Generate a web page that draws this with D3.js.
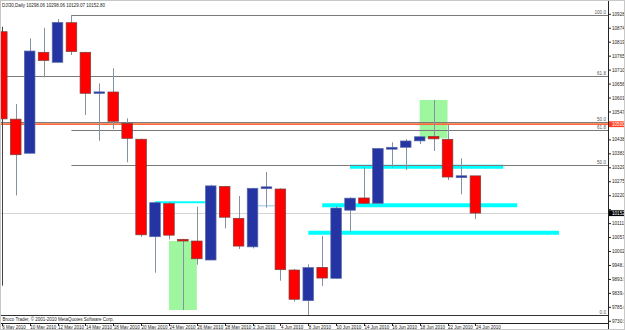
<!DOCTYPE html>
<html><head><meta charset="utf-8">
<script src="https://cdn.jsdelivr.net/npm/d3@7"></script>
<style>html,body{margin:0;padding:0;background:#fff;}svg{display:block;}text{font-family:"Liberation Sans",Arial,sans-serif;}</style>
</head><body>
<script>
// ---- data ----
const dates = ["6 May 2010","7 May 2010","10 May 2010","11 May 2010","12 May 2010","13 May 2010","14 May 2010","17 May 2010","18 May 2010","19 May 2010","20 May 2010","21 May 2010","24 May 2010","25 May 2010","26 May 2010","27 May 2010","28 May 2010","1 Jun 2010","2 Jun 2010","3 Jun 2010","4 Jun 2010","7 Jun 2010","8 Jun 2010","9 Jun 2010","10 Jun 2010","11 Jun 2010","14 Jun 2010","15 Jun 2010","16 Jun 2010","17 Jun 2010","18 Jun 2010","21 Jun 2010","22 Jun 2010","23 Jun 2010","24 Jun 2010"];
const open  = [10860.6,10519.4,10386.2,10780.2,10741.2,10895.7,10780.2,10620.4,10625.3,10503.0,10441.0,10060.6,10190.0,10050.5,10043.8,9969.7,10257.0,10132.4,10021.0,10248.0,10246.8,9930.7,9811.0,9941.0,9898.3,10164.0,10211.8,10191.0,10402.0,10409.5,10434.5,10452.0,10440.7,10291.0,10298.06];
const high  = [10879.8,10578.5,10834.8,10876.0,10910.0,10925.7,10782.0,10659.0,10717.7,10522.6,10443.0,10195.0,10197.0,10052.0,10177.6,10263.0,10259.0,10219.4,10251.0,10313.0,10249.0,9935.0,9952.9,10064.0,10180.0,10214.0,10331.4,10407.0,10429.0,10441.0,10452.0,10594.2,10496.5,10366.5,10298.06];
const low   = [9869.6,10221.5,10386.2,10682.6,10741.2,10769.6,10535.5,10435.0,10480.9,10351.0,10060.0,9920.2,10050.0,9774.5,9951.4,9969.7,10093.0,10012.6,10015.0,10173.7,9889.0,9807.0,9755.1,9868.0,9896.0,10080.2,10187.0,10189.0,10331.0,10320.9,10422.0,10395.0,10281.9,10226.0,10129.07];
const close = [10520.3,10380.4,10785.1,10748.3,10896.9,10783.0,10620.2,10625.8,10511.0,10444.4,10068.0,10193.4,10066.6,10043.8,9974.5,10259.0,10136.6,10024.0,10249.5,10255.3,9932.0,9816.5,9940.0,9899.3,10172.5,10211.1,10190.9,10404.8,10409.5,10434.2,10450.6,10442.4,10293.5,10298.4,10152.80];
const priceTicks = ["9730.55","9785.00","9839.45","9893.90","9948.35","10002.80","10057.25","10111.70","10166.15","10220.60","10275.05","10329.50","10383.95","10438.40","10492.85","10547.30","10601.75","10656.20","10710.65","10765.10","10819.55","10874.00","10928.45"];
const dateLabelIdx = [0,2,4,6,8,10,12,14,16,18,20,22,24,26,28,30,32,34];
// Fibonacci levels
const fibPrice = [10925.7,10478.5,10340.4,9755.1,10685.9,10508.2];
const fibLabel = ["100.0","61.8","50.0","0.0","61.8","50.0"];
const fibStart = [5,5,5,-2,-2,-2];
// cyan support lines
const cyanPrice = [10333.8,10183.2,10076.2,10194.9];
const cyanFrom  = [25,23,22,11];
const cyanTo    = [36,37,40,14.6];
const cyanThick = [1,1,1,0];
// green highlight boxes
const boxFrom = [12,30], boxTo = [14,32], boxTop = [10043.8,10594.2], boxBottom = [9774.5,10444.6];
const hLinePrice = 10500.00;
const titleText = "DJI30,Daily  10298.06 10298.06 10129.07 10152.80";
const copyText = "Broco Trader, © 2001-2010 MetaQuotes Software Corp.";

// ---- layout ----
const W = 625, H = 330, plotR = 608, plotB = 323;
const svg = d3.select("body").append("svg").attr("width", W).attr("height", H);
svg.append("rect").attr("x",0).attr("y",0).attr("width",W).attr("height",H).attr("fill","#fff");

const x = d3.scaleLinear().domain([0, 34]).range([1.8, 475.4]);
const y = d3.scaleLinear().domain([9730.55, 10928.45]).range([321.3, 14.3]);
const bw = 10.6;

svg.append("clipPath").attr("id","plot").append("rect").attr("x",0).attr("y",0).attr("width",plotR).attr("height",plotB);
const g = svg.append("g").attr("clip-path","url(#plot)");

g.selectAll(".gbox").data(boxFrom).join("rect")
  .attr("x", (d,i)=>x(d)).attr("width",(d,i)=>x(boxTo[i])-x(d))
  .attr("y",(d,i)=>y(boxTop[i])).attr("height",(d,i)=>y(boxBottom[i])-y(boxTop[i]))
  .attr("fill","#9ef79e");

g.selectAll(".cy").data(cyanPrice).join("line")
  .attr("x1",(d,i)=>x(cyanFrom[i])).attr("x2",(d,i)=>x(cyanTo[i]))
  .attr("y1",d=>y(d)).attr("y2",d=>y(d))
  .attr("stroke","#00ffff").attr("stroke-width",(d,i)=>cyanThick[i]?4:2);
g.append("line").attr("x1",x(18.4)).attr("x2",x(19.6)).attr("y1",y(10181.6)).attr("y2",y(10181.6))
  .attr("stroke","#b5d8e8").attr("stroke-width",1.5);

g.selectAll(".fib").data(fibPrice).join("line")
  .attr("x1",(d,i)=>x(fibStart[i])).attr("x2",plotR)
  .attr("y1",d=>Math.round(y(d))+0.5).attr("y2",d=>Math.round(y(d))+0.5)
  .attr("stroke",(d,i)=>fibLabel[i]==="0.0"?"#333":"#7a7a7a").attr("stroke-width",1);

g.append("line").attr("x1",0).attr("x2",plotR).attr("y1",y(hLinePrice)).attr("y2",y(hLinePrice))
  .attr("stroke","#ff6a3a").attr("stroke-width",1.6);
g.append("line").attr("x1",0).attr("x2",plotR).attr("y1",Math.round(y(close[34]))+0.5).attr("y2",Math.round(y(close[34]))+0.5)
  .attr("stroke","#d4d4d4").attr("stroke-width",1);

const idx = d3.range(dates.length);
g.selectAll(".wick").data(idx).join("line")
  .attr("x1",i=>Math.round(x(i))+0.5).attr("x2",i=>Math.round(x(i))+0.5)
  .attr("y1",i=>y(high[i])).attr("y2",i=>y(low[i]))
  .attr("stroke",i=>i===0?"#444":"#8593a0").attr("stroke-width",1);
g.selectAll(".body").data(idx).join("rect")
  .attr("x",i=>x(i)-bw/2).attr("width",bw)
  .attr("y",i=>y(Math.max(open[i],close[i])))
  .attr("height",i=>Math.max(1.5, Math.abs(y(open[i])-y(close[i]))))
  .attr("fill",i=>close[i]>=open[i]?"#2434a3":"#ff0000")
  .attr("stroke",i=>close[i]>=open[i]?"#5a6aa8":"#7a4040").attr("stroke-width",0.7);

svg.selectAll(".fibt").data(fibPrice).join("text")
  .attr("x",606).attr("y",d=>Math.round(y(d))-1)
  .attr("text-anchor","end").attr("font-size",4.6).attr("fill","#555")
  .text((d,i)=>fibLabel[i]);

svg.append("line").attr("x1",plotR+0.5).attr("x2",plotR+0.5).attr("y1",0).attr("y2",H).attr("stroke","#222");
svg.append("line").attr("x1",0).attr("x2",plotR).attr("y1",plotB+0.5).attr("y2",plotB+0.5).attr("stroke","#222");

// right price axis (labels hidden where a price box covers them, as in the reference)
const boxPrices = [hLinePrice, close[34]];
const visibleTicks = priceTicks.filter(d => boxPrices.every(b => Math.abs(y(+d)-y(b)) > 5));
const ax = svg.append("g");
ax.selectAll("line").data(priceTicks).join("line")
  .attr("x1",plotR).attr("x2",plotR+3).attr("y1",d=>y(+d)).attr("y2",d=>y(+d)).attr("stroke","#222");
ax.selectAll("text").data(visibleTicks).join("text")
  .attr("x",plotR+4).attr("y",d=>y(+d)+1.6).attr("font-size",4.6).attr("fill","#222")
  .text(d=>d);

function priceBox(p, fill){
  const yy = y(p);
  svg.append("rect").attr("x",plotR+1).attr("y",yy-2.8).attr("width",W-plotR-1).attr("height",5.8).attr("fill",fill);
  svg.append("text").attr("x",plotR+4).attr("y",yy+1.6).attr("font-size",4.6).attr("fill","#fff").text(p.toFixed(2));
}
priceBox(hLinePrice, "#ff3f1f");
priceBox(close[34], "#000");

svg.selectAll(".dt").data(dateLabelIdx).join("line")
  .attr("x1",i=>Math.round(x(i))+0.5).attr("x2",i=>Math.round(x(i))+0.5)
  .attr("y1",plotB).attr("y2",plotB+3).attr("stroke","#222");
svg.selectAll(".dl").data(dateLabelIdx).join("text")
  .attr("x",i=>x(i)+0.5).attr("y",328.6).attr("font-size",4.5).attr("fill","#222")
  .text(i=>dates[i]);

svg.append("text").attr("x",2).attr("y",6.8).attr("font-size",4.5).attr("fill","#222").text(titleText);
svg.append("text").attr("x",2.5).attr("y",320.8).attr("font-size",4.5).attr("fill","#222").text(copyText);

svg.append("rect").attr("x",0.5).attr("y",0.5).attr("width",W-1).attr("height",H-1).attr("fill","none").attr("stroke","#c8c8c8");
</script>
</body></html>
